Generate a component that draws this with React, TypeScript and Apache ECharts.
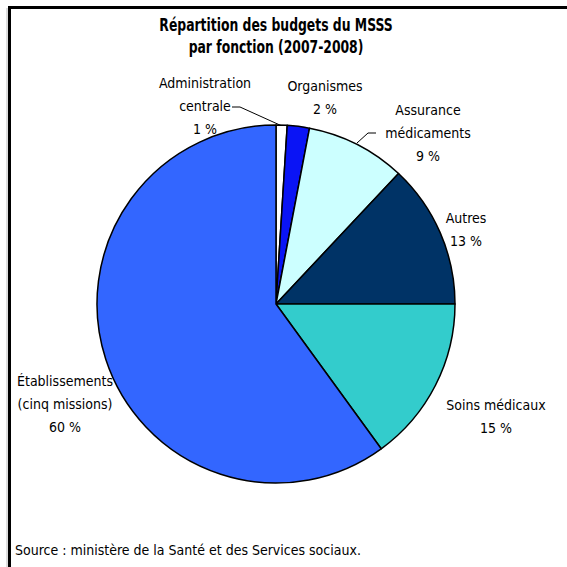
import React, { useEffect, useRef } from "react";
import * as echarts from "echarts";

const CATEGORIES = [
  "Administration\ncentrale",
  "Organismes",
  "Assurance\nmédicaments",
  "Autres",
  "Soins médicaux",
  "Établissements\n(cinq missions)",
];
const VALUES = [1, 2, 9, 13, 15, 60];
const COLORS = ["#FFFFFF", "#0A14F5", "#CCFFFF", "#003366", "#33CCCC", "#3366FF"];
const TITLE = "Répartition des budgets du MSSS\npar fonction (2007-2008)";
const SOURCE = "Source : ministère de la Santé et des Services sociaux.";

// label block centres (layout only)
const LABEL_POS: [number, number][] = [
  [205, 106],
  [325, 97.5],
  [428, 133],
  [466, 229.5],
  [496, 416.5],
  [65, 404],
];
const LABEL_LINES: ([number, number][] | null)[] = [
  [[282, 126], [240, 107], [232, 107]],
  null,
  [[357, 143], [368, 133], [376, 133]],
  null,
  null,
  null,
];

const FONT = "'DejaVu Sans Condensed', 'DejaVu Sans', sans-serif";

export default function App() {
  const ref = useRef<HTMLDivElement>(null);
  useEffect(() => {
    if (!ref.current) return;
    const chart = echarts.init(ref.current, null, { renderer: "svg" });
    chart.setOption({
      animation: false,
      backgroundColor: "#FFFFFF",
      graphic: [
        {
          type: "line",
          shape: { x1: 7, y1: 8, x2: 7, y2: 567 },
          style: { stroke: "#BBBBBB", lineWidth: 1 },
        },
        {
          type: "rect",
          shape: { x: 9.5, y: 7.5, width: 600, height: 600 },
          style: { fill: "none", stroke: "#000", lineWidth: 3 },
        },
        {
          type: "text",
          x: 276,
          y: 36.5,
          scaleX: 0.81,
          style: {
            text: TITLE,
            fontFamily: FONT,
            fontSize: 17,
            fontWeight: "bold",
            lineHeight: 23,
            fill: "#000",
            textAlign: "center",
            verticalAlign: "middle",
          },
        },
        {
          type: "text",
          x: 15,
          y: 550,
          style: {
            text: SOURCE,
            fontFamily: FONT,
            fontSize: 14,
            fill: "#000",
            verticalAlign: "middle",
            textAlign: "left",
          },
        },
      ],
      series: [
        {
          type: "pie",
          center: [276, 304],
          radius: 179,
          startAngle: 90,
          clockwise: true,
          data: CATEGORIES.map((name, i) => ({
            name,
            value: VALUES[i],
            itemStyle: { color: COLORS[i] },
            labelLine: { show: LABEL_LINES[i] !== null },
          })),
          itemStyle: { borderColor: "#000", borderWidth: 1.5 },
          label: {
            show: true,
            formatter: "{b}\n{c} %",
            fontFamily: FONT,
            fontSize: 14,
            lineHeight: 23,
            color: "#000",
            align: "center",
            width: 200,
            overflow: "none",
          },
          labelLine: {
            lineStyle: { color: "#000", width: 1 },
          },
          labelLayout: (params: any) => {
            const i = params.dataIndex;
            const p = LABEL_POS[i];
            const out: any = {
              x: p[0],
              y: p[1],
              align: "center",
              verticalAlign: "middle",
            };
            if (LABEL_LINES[i]) out.labelLinePoints = LABEL_LINES[i];
            return out;
          },
          emphasis: { disabled: true },
        },
      ],
    });
    return () => chart.dispose();
  }, []);
  return (
    <div
      ref={ref}
      style={{ position: "fixed", left: 0, top: 0, width: 567, height: 567 }}
    />
  );
}
